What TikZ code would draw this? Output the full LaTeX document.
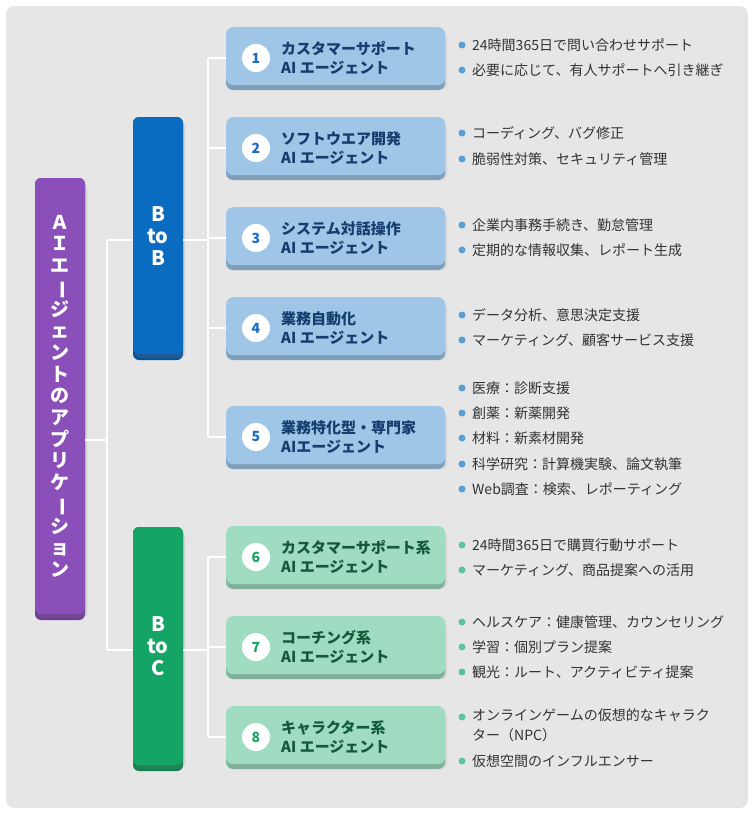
\documentclass[tikz,border=0pt]{standalone}
\usepackage{fontspec}
\usepackage{graphicx}
\setmainfont{Noto Sans CJK JP}
\usetikzlibrary{shadows}
\definecolor{bgc}{HTML}{E6E6E6}
\definecolor{rootc}{HTML}{8A4FB8}
\definecolor{rootd}{HTML}{6E3C96}
\definecolor{bbc}{HTML}{0A6CC0}
\definecolor{bbd}{HTML}{07529A}
\definecolor{bcc}{HTML}{14A466}
\definecolor{bcd}{HTML}{0E8250}
\definecolor{bluecard}{HTML}{9FC6E6}
\definecolor{blueedge}{HTML}{7FA4C2}
\definecolor{bluetxt}{HTML}{153E6E}
\definecolor{bluenum}{HTML}{1A6CC0}
\definecolor{bluedot}{HTML}{5A9FD4}
\definecolor{greencard}{HTML}{A0DCC2}
\definecolor{greenedge}{HTML}{80B8A0}
\definecolor{greentxt}{HTML}{145A38}
\definecolor{greennum}{HTML}{14A466}
\definecolor{greendot}{HTML}{5CC49A}
\definecolor{itemtxt}{HTML}{333333}
\tikzset{
  conn/.style={draw=white,line width=2pt},
  catbox/.style={rounded corners=6pt,minimum width=50pt,text=white,font=\bfseries\fontsize{20}{22}\selectfont,align=center,drop shadow={opacity=0.2,shadow xshift=2pt,shadow yshift=-4pt}},
  cardbox/.style={rounded corners=7pt,minimum width=219pt,minimum height=58pt,drop shadow={opacity=0.15,shadow xshift=2pt,shadow yshift=-5pt}},
  numc/.style={circle,fill=white,minimum size=28pt,inner sep=0pt,font=\bfseries\fontsize{14}{14}\selectfont},
  ttl/.style={anchor=west,align=left,font=\bfseries\fontsize{15}{19.5}\selectfont,inner sep=0pt},
  item/.style={anchor=west,text=itemtxt,font=\fontsize{14}{20}\selectfont,inner sep=0pt,align=left},
}
\newcommand{\mkcard}[6]{% name, y, num, title, kind(blue/green)
  \fill[#5edge,rounded corners=7pt] (226,#2-26) rectangle (445,#2+32);
  \node[cardbox,fill=#5card,anchor=north west] (#1) at (226,#2-31) {};
  \node[numc,text=#5num] (#1n) at (256,#2) {#3};
  \node[ttl,text=#5txt] (#1t) at (281,#2) {#4\\#6};
}
\newcommand{\bul}[4]{% name,y,text,kind
  \fill[#4dot] (462,#2) circle (3.5);
  \node[item] (#1) at (472,#2) {#3};
}
\newcommand{\vb}{\rotatebox[origin=c]{-90}{ー}}
\begin{document}
\begin{tikzpicture}[x=1pt,y=-1pt]
\useasboundingbox (0,0) rectangle (754,814);
\fill[bgc,rounded corners=8pt] (6,6) rectangle (748,808);
% categories
\fill[rootd,rounded corners=6pt] (35,178) rectangle (85,620);
\node[catbox,fill=rootc,minimum height=436pt,anchor=north,font=\bfseries\fontsize{19}{21.7}\selectfont] (root) at (60,178) {Ａ\\Ｉ\\エ\\\vb\\ジ\\ェ\\ン\\ト\\の\\ア\\プ\\リ\\ケ\\\vb\\シ\\ョ\\ン};
\fill[bbd,rounded corners=6pt] (133,117) rectangle (183,360);
\node[catbox,fill=bbc,minimum height=237pt,anchor=north] (btob) at (158,117) {B\\to\\B};
\fill[bcd,rounded corners=6pt] (133,527) rectangle (183,771);
\node[catbox,fill=bcc,minimum height=238pt,anchor=north] (btoc) at (158,527) {B\\to\\C};
% cards
\mkcard{c1}{58}{1}{カスタマーサポート}{blue}{AI エージェント}
\mkcard{c2}{148}{2}{ソフトウエア開発}{blue}{AI エージェント}
\mkcard{c3}{238}{3}{システム対話操作}{blue}{AI エージェント}
\mkcard{c4}{328}{4}{業務自動化}{blue}{AI エージェント}
\mkcard{c5}{437}{5}{業務特化型・専門家}{blue}{AIエージェント}
\mkcard{c6}{557}{6}{カスタマーサポート系}{green}{AI エージェント}
\mkcard{c7}{647}{7}{コーチング系}{green}{AI エージェント}
\mkcard{c8}{737}{8}{キャラクター系}{green}{AI エージェント}
% connectors
\coordinate (ja) at (107,440);
\coordinate (jb) at (208,240);
\coordinate (jc) at (208,650);
\draw[conn] (root.east |- ja) -- (ja);
\draw[conn] (107,240) -- (107,650);
\draw[conn] (107,240) -- (btob.west |- 0,240);
\draw[conn] (107,650) -- (btoc.west |- 0,650);
\draw[conn] (btob.east |- jb) -- (jb);
\draw[conn] (208,58) -- (208,437);
\foreach \c/\y in {c1/58,c2/148,c3/238,c4/328,c5/437} \draw[conn] (208,\y) -- (\c.west |- 0,\y);
\draw[conn] (btoc.east |- jc) -- (jc);
\draw[conn] (208,557) -- (208,737);
\foreach \c/\y in {c6/557,c7/647,c8/737} \draw[conn] (208,\y) -- (\c.west |- 0,\y);
% bullets
\bul{i1a}{45}{24時間365日で問い合わせサポート}{blue}
\bul{i1b}{70}{必要に応じて、有人サポートへ引き継ぎ}{blue}
\bul{i2a}{133}{コーディング、バグ修正}{blue}
\bul{i2b}{159}{脆弱性対策、セキュリティ管理}{blue}
\bul{i3a}{225}{企業内事務手続き、勤怠管理}{blue}
\bul{i3b}{250}{定期的な情報収集、レポート生成}{blue}
\bul{i4a}{315}{データ分析、意思決定支援}{blue}
\bul{i4b}{340}{マーケティング、顧客サービス支援}{blue}
\bul{i5a}{388}{医療：診断支援}{blue}
\bul{i5b}{413}{創薬：新薬開発}{blue}
\bul{i5c}{438}{材料：新素材開発}{blue}
\bul{i5d}{464}{科学研究：計算機実験、論文執筆}{blue}
\bul{i5e}{489}{Web調査：検索、レポーティング}{blue}
\bul{i6a}{545}{24時間365日で購買行動サポート}{green}
\bul{i6b}{570}{マーケティング、商品提案への活用}{green}
\bul{i7a}{622}{ヘルスケア：健康管理、カウンセリング}{green}
\bul{i7b}{647}{学習：個別プラン提案}{green}
\bul{i7c}{672}{観光：ルート、アクティビティ提案}{green}
\fill[greendot] (462,717) circle (3.5);
\node[item,anchor=north west] (i8a) at (472,708) {オンラインゲームの仮想的なキャラク\\ター（NPC）};
\bul{i8b}{761}{仮想空間のインフルエンサー}{green}
\end{tikzpicture}
\end{document}
